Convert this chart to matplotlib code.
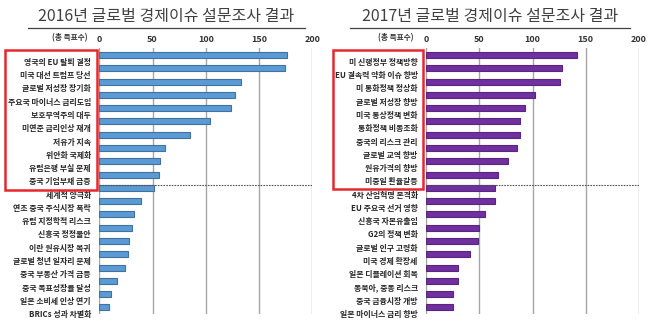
import numpy as np
import matplotlib
matplotlib.use("Agg")
import matplotlib.pyplot as plt
import matplotlib.transforms as mtransforms
from matplotlib.patches import Rectangle
from matplotlib.lines import Line2D

plt.rcParams['font.family'] = ['Noto Sans CJK KR', 'DejaVu Sans']

# 2016 survey
labels_2016 = ["영국의 EU 탈퇴 결정", "미국 대선 트럼프 당선", "글로벌 저성장 장기화",
               "주요국 마이너스 금리도입", "보호무역주의 대두", "미연준 금리인상 재개",
               "저유가 지속", "위안화 국제화", "유럽은행 부실 문제", "중국 기업부채 급증",
               "세계적 양극화", "연초 중국 주식시장 폭락", "유럽 지정학적 리스크",
               "신흥국 정정불안", "이란 원유시장 복귀", "글로벌 청년 일자리 문제",
               "중국 부동산 가격 급등", "중국 목표성장률 달성", "일본 소비세 인상 연기",
               "BRICs 성과 차별화"]
votes_2016 = [176, 174, 133, 127, 124, 104, 85, 62, 57, 56,
              51, 39, 33, 31, 28, 27, 24, 17, 11, 9]

# 2017 survey
labels_2017 = ["미 신행정부 정책방향", "EU 결속력 약화 이슈 향방", "미 통화정책 정상화",
               "글로벌 저성장 향방", "미국 통상정책 변화", "통화정책 비동조화",
               "중국의 리스크 관리", "글로벌 교역 향방", "원유가격의 향방", "미중일 환율갈등",
               "4차 산업혁명 본격화", "EU 주요국 선거 영향", "신흥국 자본유출입",
               "G2의 정책 변화", "글로벌 인구 고령화", "미국 경제 확장세",
               "일본 디플레이션 회복", "동북아, 중동 리스크", "중국 금융시장 개방",
               "일본 마이너스 금리 향방"]
votes_2017 = [142, 128, 126, 102, 93, 88, 88, 85, 77, 68,
              65, 65, 55, 50, 49, 41, 30, 30, 25, 25]

titles = ["2016년 글로벌 경제이슈 설문조사 결과", "2017년 글로벌 경제이슈 설문조사 결과"]
ticks = [0, 50, 100, 150, 200]

W, H = 650, 326
fig = plt.figure(figsize=(6.5, 3.26), dpi=100)
# labels sit a little below their bars in the original
label_shift = mtransforms.ScaledTranslation(0, -6.3 / 100, fig.dpi_scale_trans)


def panel(x0, labels, votes, color, edge, title, title_x, title_w, box):
    ax = fig.add_axes([x0 / W, 1 - 314 / H, 213 / W, (314 - 48.4) / H])
    y = np.arange(len(labels))
    ax.barh(y, votes, height=0.45, color=color, edgecolor=edge, linewidth=0.8, zorder=3)
    ax.set_xlim(0, 200)
    ax.set_ylim(len(labels) - 0.5, -0.5)
    ax.set_yticks(y)
    ax.set_yticklabels(labels, fontsize=5.7, fontweight='bold', color='#262626')
    ax.tick_params(axis='y', length=0, pad=6)
    for lab in ax.get_yticklabels():
        lab.set_transform(lab.get_transform() + label_shift)
    ax.xaxis.tick_top()
    ax.set_xticks(ticks)
    ax.set_xticklabels([str(t) for t in ticks], fontsize=6.5, fontweight='bold', color='#333333')
    ax.tick_params(axis='x', length=0, pad=3)
    for t in ticks:
        ax.axvline(t, color='#A6A6A6', lw=1.0, zorder=1)
    ax.axhline(9.78, xmin=0, xmax=1, color='#555555', lw=0.8, ls=(0, (1.5, 1)), zorder=4)
    for s in ax.spines.values():
        s.set_visible(False)
    ax.patch.set_alpha(0)

    fig.text((x0 - 30) / W, 1 - 38 / H, "(총 득표수)", fontsize=5.5, fontweight='bold',
             color='#333333', ha='center', va='center')
    fig.text(title_x / W, 1 - 16 / H, title, fontsize=11.5, color='#404040',
             ha='center', va='center')
    fig.add_artist(Line2D([(title_x - title_w / 2) / W, (title_x + title_w / 2) / W],
                          [1 - 28 / H, 1 - 28 / H], color='#404040', lw=0.9))
    bx0, by0, bx1, by1 = box
    fig.add_artist(Rectangle((bx0 / W, 1 - by1 / H), (bx1 - bx0) / W, (by1 - by0) / H,
                             fill=False, edgecolor='#E8262B', lw=1.8))


panel(99.3, labels_2016, votes_2016, '#5B9BD5', '#41719C', titles[0], 166, 277,
      (5, 50, 97, 190))
panel(426, labels_2017, votes_2017, '#7030A0', '#5A2480', titles[1], 490, 280,
      (333, 50, 423, 189))

fig.savefig("out.png", dpi=100)
